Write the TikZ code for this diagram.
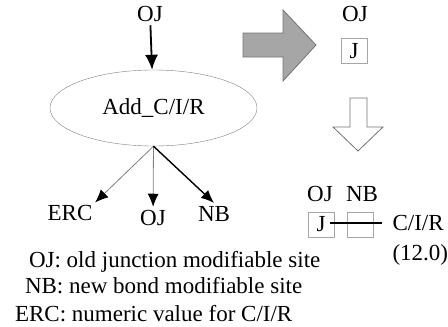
\documentclass[tikz,border=0pt]{standalone}
\usepackage{fontspec}
\setmainfont{Liberation Serif}
\usepackage{tikz}
\usetikzlibrary{arrows.meta}
\usetikzlibrary{positioning,shapes.geometric}

\begin{document}
\begin{tikzpicture}[x=1pt,y=-1pt,>={Latex[length=13pt,width=11pt,color=black]},
	font=\fontsize{23}{25}\selectfont,
	op node/.style={ellipse,draw=gray,minimum width=207pt,minimum height=76pt},
	site box/.style={draw=gray!70,minimum width=26pt,minimum height=25pt,inner sep=0pt},
	block arrow/.style={draw=gray!90!black,line width=0.8pt}]

	\useasboundingbox (0,0) rectangle (448,327);

	\node (oj) at (150,14) {OJ};
	\node[op node] (add) at (153.5,108) {Add\_C/I/R};
	\node (erc) at (70,213) {ERC};
	\node (ojb) at (153,218) {OJ};
	\node (nb) at (214,214) {NB};

	\path[->]
		(oj) edge [line width=1.8pt,>={Latex[length=15pt,width=13pt]}] (add)
		(add.south) edge [gray,line width=0.8pt,shorten >=-1pt] (erc.north east)
			edge [gray,line width=0.8pt] (ojb)
			edge [line width=1.4pt] (nb.north);

	% legend
	\node[anchor=base west] (l1) at (25.5,267) {OJ: old junction modifiable site};
	\node[anchor=base west] (l2) at (21.5,293) {NB: new bond modifiable site};
	\node[anchor=base west] (l3) at (11.5,321) {ERC: numeric value for C/I/R};

	% block arrows
	\draw[block arrow,fill=gray!70] (243,33) -- (283,33) -- (283,10) -- (316,45)
		-- (283,81) -- (283,57) -- (243,57) -- cycle;
	\draw[block arrow,fill=white] (350,98) -- (367,98) -- (367,127) -- (383,127)
		-- (358,151) -- (333,127) -- (350,127) -- cycle;

	\node (ojr) at (355,14) {OJ};
	\node[site box] (jb) at (354,51) {J};

	\node (oj2) at (320,194) {OJ};
	\node (nb2) at (362,194) {NB};
	\node[site box] (jb2) at (321,224.5) {J};
	\node[site box] (nbb) at (360,224.5) {};
	\coordinate (bondend) at (382,223);
	\draw[line width=1.2pt] ([xshift=-4pt]jb2.east |- bondend) -- (bondend);
	\node[anchor=west] (cir) at (389,223) {C/I/R};
	\node[anchor=west] (val) at (389,255) {(12.0)};

\end{tikzpicture}
\end{document}
